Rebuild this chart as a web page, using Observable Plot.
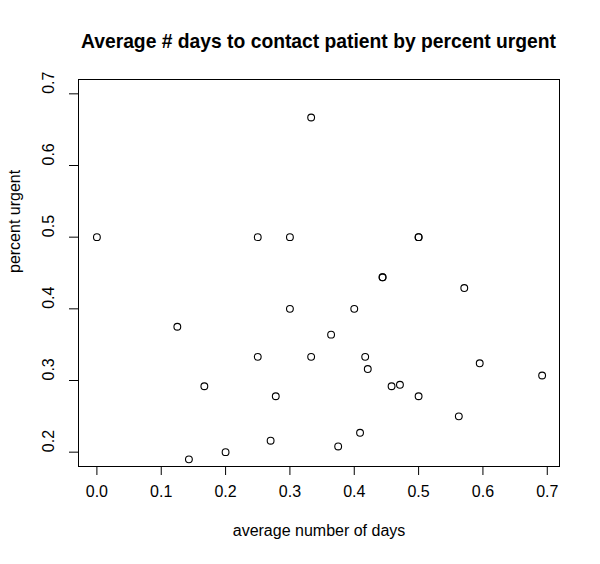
<!DOCTYPE html>
<html>
<head>
<meta charset="utf-8">
<script src="https://cdn.jsdelivr.net/npm/d3@7"></script>
<script src="https://cdn.jsdelivr.net/npm/@observablehq/plot@0.6"></script>
<style>
  body { margin: 0; background: #fff; }
  #wrap { position: relative; width: 600px; height: 564px; font-family: "Liberation Sans", Arial, Helvetica, sans-serif; }
  #title { position: absolute; top: 31px; left: 60px; width: 517px; text-align: center; font-weight: bold; font-size: 19.3px; line-height: 22px; color: #000; white-space: nowrap; }
  #chart { position: absolute; top: 60px; left: 0; }
</style>
</head>
<body>
<div id="wrap">
  <div id="title">Average # days to contact patient by percent urgent</div>
  <div id="chart"></div>
</div>
<script>
const avgDays = [0, 0.125, 0.143, 0.167, 0.2, 0.25, 0.25, 0.27, 0.278, 0.3, 0.3, 0.333, 0.333, 0.364, 0.375, 0.4, 0.409, 0.417, 0.421, 0.444, 0.444, 0.458, 0.471, 0.5, 0.5, 0.5, 0.5625, 0.571, 0.595, 0.692];
const pctUrgent = [0.5, 0.375, 0.19, 0.292, 0.2, 0.5, 0.333, 0.216, 0.278, 0.5, 0.4, 0.667, 0.333, 0.364, 0.208, 0.4, 0.227, 0.333, 0.316, 0.444, 0.444, 0.292, 0.294, 0.5, 0.5, 0.278, 0.25, 0.429, 0.324, 0.307];
const xTicks = [0, 0.1, 0.2, 0.3, 0.4, 0.5, 0.6, 0.7];
const yTicks = [0.2, 0.3, 0.4, 0.5, 0.6, 0.7];
const xLabel = "average number of days";
const yLabel = "percent urgent";

const points = avgDays.map((d, i) => ({x: d, y: pctUrgent[i]}));
const fmt = d3.format(".1f");
const font = "Liberation Sans, Arial, Helvetica, sans-serif";

const chart = Plot.plot({
  width: 600,
  height: 504,
  marginLeft: 78,
  marginRight: 41,
  marginTop: 19,
  marginBottom: 98,
  style: {fontFamily: font, fontSize: "16px", color: "#000", background: "#fff"},
  x: {domain: [-0.0286, 0.719], axis: null},
  y: {domain: [0.18, 0.72], axis: null},
  marks: [
    Plot.frame({stroke: "#000", strokeWidth: 1}),
    Plot.axisX({ticks: xTicks, tickSize: 9, tickFormat: () => "", label: null, stroke: "#000"}),
    Plot.axisY({ticks: yTicks, tickSize: 9, tickFormat: () => "", label: null, stroke: "#000"}),
    Plot.text(xTicks, {x: d => d, frameAnchor: "bottom", dy: 30, text: d => fmt(d), fontSize: 16, fill: "#000"}),
    Plot.text(yTicks, {y: d => d, frameAnchor: "left", dx: -30, rotate: -90, text: d => fmt(d), fontSize: 16, fill: "#000"}),
    Plot.text([xLabel], {frameAnchor: "bottom", dy: 69, text: d => d, fontSize: 16, fill: "#000"}),
    Plot.text([yLabel], {frameAnchor: "left", dx: -64, rotate: -90, text: d => d, fontSize: 16, fill: "#000"}),
    Plot.dot(points, {x: "x", y: "y", r: 3.4, stroke: "#000", strokeWidth: 1.1, fill: "none"})
  ]
});
document.getElementById("chart").appendChild(chart);
</script>
</body>
</html>
